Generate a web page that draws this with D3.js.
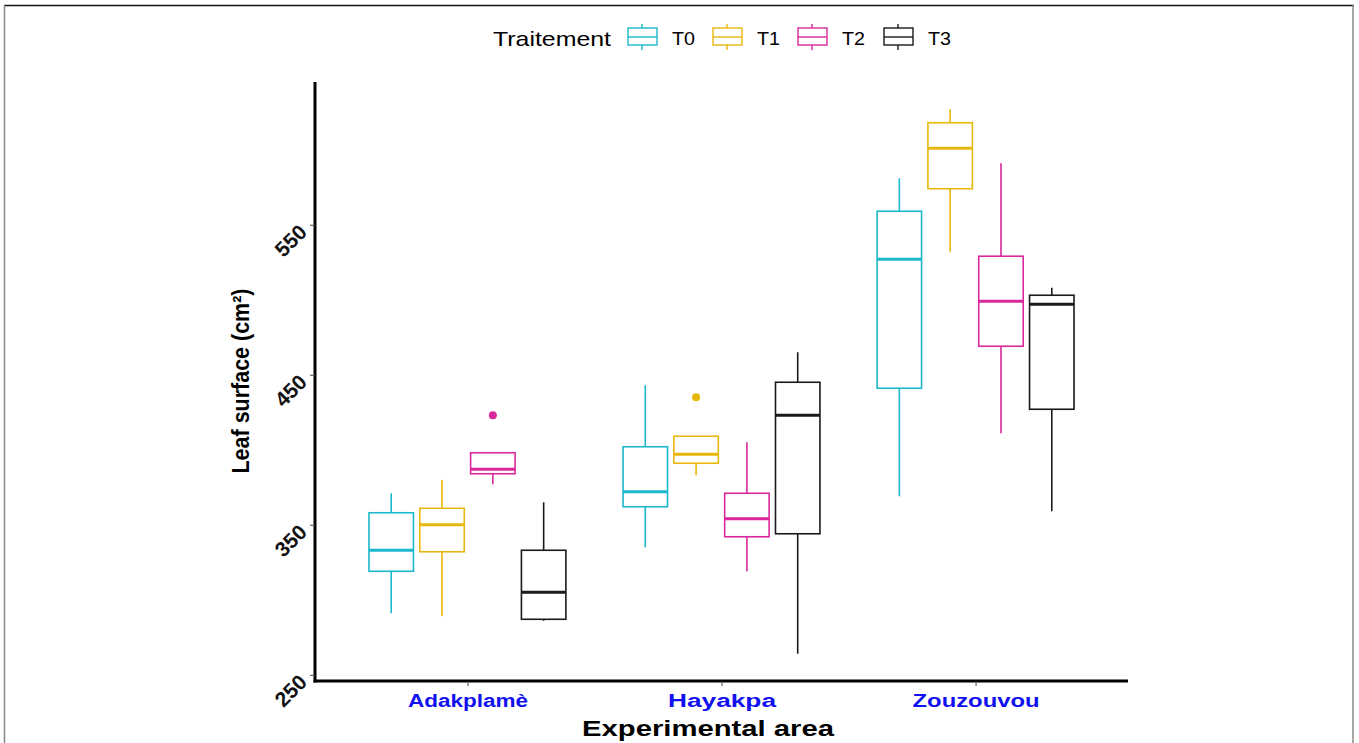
<!DOCTYPE html>
<html>
<head>
<meta charset="utf-8">
<script src="https://cdn.jsdelivr.net/npm/d3@7"></script>
<style>
	body{margin:0;background:#fff;}
	svg{display:block;font-family:"Liberation Sans",Arial,sans-serif;}
</style>
</head>
<body>
<div id="chart"></div>
<script>
//Data
const areas = ['Adakplamè','Hayakpa','Zouzouvou'];
const treatments = ['T0','T1','T2','T3'];
const yTicks = [250,350,450,550];

//[lower whisker, q1, median, q3, upper whisker], one per area
const statsT0 = [[291,319,333,358,371],[335,362,372,402,443],[369,441,527,559,581]];
const statsT1 = [[289,332,350,361,380],[383,391,397,409,409],[532,574,601,618,627]];
const statsT2 = [[377,384,387,398,398],[319,342,354,371,405],[411,469,499,529,591]];
const statsT3 = [[286,287,305,333,365],[264,344,423,445,465],[359,427,497,503,508]];
const outliers = [
	{area:'Adakplamè',trt:'T2',value:423},
	{area:'Hayakpa',trt:'T1',value:435}
];

const colors = ['#1CB8CB','#E8B70C','#D9289B','#1a1a1a'];

const W = 1359, H = 743;
const margin = {t:82,r:231,b:62,l:315};

const allStats = [statsT0,statsT1,statsT2,statsT3];
const boxes = [];
allStats.forEach((s,ti) => {
	s.forEach((d,ai) => {
		boxes.push({area:areas[ai],trt:treatments[ti],ti:ti,lo:d[0],q1:d[1],med:d[2],q3:d[3],hi:d[4]});
	});
});

const svg = d3.select('#chart').append('svg')
	.attr('width',W)
	.attr('height',H);

//frame
svg.append('line').attr('x1',4).attr('x2',1354).attr('y1',5.5).attr('y2',5.5)
	.style('stroke','#111').style('stroke-width',1.5);
svg.append('line').attr('x1',4.5).attr('x2',4.5).attr('y1',5).attr('y2',H)
	.style('stroke','#888').style('stroke-width',1.5);
svg.append('line').attr('x1',1353).attr('x2',1353).attr('y1',5).attr('y2',H)
	.style('stroke','#888').style('stroke-width',1.5);

//scales, 5% expansion like ggplot
const vals = boxes.flatMap(d => [d.lo,d.hi]).concat(outliers.map(d => d.value));
const [vMin,vMax] = d3.extent(vals);
const pad = (vMax - vMin)*0.05;
const scaleY = d3.scaleLinear()
	.domain([vMin - pad, vMax + pad])
	.range([H - margin.b, margin.t]);
const scaleX = d3.scalePoint()
	.domain(areas)
	.range([margin.l, W - margin.r])
	.padding(0.6);
const step = scaleX.step();
const dodge = d => (d - 1.5)*step*0.2;
const bw = step*0.175;

const plot = svg.append('g');

//whiskers
plot.selectAll('.whisker')
	.data(boxes)
	.enter()
	.append('line')
	.attr('class','whisker')
	.attr('x1',d => scaleX(d.area) + dodge(d.ti))
	.attr('x2',d => scaleX(d.area) + dodge(d.ti))
	.attr('y1',d => scaleY(d.lo))
	.attr('y2',d => scaleY(d.hi))
	.style('stroke',d => colors[d.ti])
	.style('stroke-width',1.6);

//boxes
plot.selectAll('.box')
	.data(boxes)
	.enter()
	.append('rect')
	.attr('class','box')
	.attr('x',d => scaleX(d.area) + dodge(d.ti) - bw/2)
	.attr('width',bw)
	.attr('y',d => scaleY(d.q3))
	.attr('height',d => scaleY(d.q1) - scaleY(d.q3))
	.style('fill','#fff')
	.style('stroke',d => colors[d.ti])
	.style('stroke-width',1.6);

//medians
plot.selectAll('.median')
	.data(boxes)
	.enter()
	.append('line')
	.attr('class','median')
	.attr('x1',d => scaleX(d.area) + dodge(d.ti) - bw/2)
	.attr('x2',d => scaleX(d.area) + dodge(d.ti) + bw/2)
	.attr('y1',d => scaleY(d.med))
	.attr('y2',d => scaleY(d.med))
	.style('stroke',d => colors[d.ti])
	.style('stroke-width',3);

//outliers
plot.selectAll('.outlier')
	.data(outliers)
	.enter()
	.append('circle')
	.attr('class','outlier')
	.attr('cx',d => scaleX(d.area) + dodge(treatments.indexOf(d.trt)))
	.attr('cy',d => scaleY(d.value))
	.attr('r',4)
	.style('fill',d => colors[treatments.indexOf(d.trt)]);

//axes
const axisY = d3.axisLeft(scaleY).tickValues(yTicks).tickSize(5).tickSizeOuter(0);
const axisX = d3.axisBottom(scaleX).tickSize(5).tickSizeOuter(0);

const gy = svg.append('g')
	.attr('transform',`translate(${margin.l},0)`)
	.call(axisY);
gy.select('.domain')
	.attr('d',`M0,${H - margin.b + 1.5}V${margin.t}`)
	.style('stroke','#000').style('stroke-width',3);
gy.selectAll('.tick line').style('stroke','#444').style('stroke-width',1);
gy.selectAll('.tick text')
	.attr('x',0).attr('dy','0.35em')
	.attr('transform','translate(-12,3) rotate(-45)')
	.style('font-size','21px')
	.style('font-weight','bold')
	.style('fill','#111');

const gx = svg.append('g')
	.attr('transform',`translate(0,${H - margin.b})`)
	.call(axisX);
gx.select('.domain')
	.attr('d',`M${margin.l - 1.5},0H${W - margin.r}`)
	.style('stroke','#000').style('stroke-width',3);
gx.selectAll('.tick line').style('stroke','#444').style('stroke-width',1);
const xLabelW = {'Adakplamè':120,'Hayakpa':108,'Zouzouvou':127};
gx.selectAll('.tick text')
	.attr('y',13)
	.attr('textLength',d => xLabelW[d])
	.attr('lengthAdjust','spacingAndGlyphs')
	.style('font-size','18px')
	.style('font-weight','bold')
	.style('fill','#1010F0');

//titles
svg.append('text')
	.attr('x',708).attr('y',736)
	.attr('text-anchor','middle')
	.attr('textLength',252).attr('lengthAdjust','spacingAndGlyphs')
	.style('font-size','22px').style('font-weight','bold')
	.text('Experimental area');

svg.append('text')
	.attr('transform','translate(249,381) rotate(-90)')
	.attr('text-anchor','middle')
	.attr('textLength',185).attr('lengthAdjust','spacingAndGlyphs')
	.style('font-size','23px').style('font-weight','bold')
	.text('Leaf surface (cm²)');

//legend
const legend = svg.append('g');
legend.append('text')
	.attr('x',493).attr('y',46)
	.attr('textLength',118).attr('lengthAdjust','spacingAndGlyphs')
	.style('font-size','21px')
	.text('Traitement');

const keyX = [627,712,797,883];
const keys = legend.selectAll('.key')
	.data(treatments)
	.enter()
	.append('g')
	.attr('class','key')
	.attr('transform',(d,i) => `translate(${keyX[i]},0)`);
keys.append('line')
	.attr('x1',15).attr('x2',15).attr('y1',24).attr('y2',50)
	.style('stroke',(d,i) => colors[i]).style('stroke-width',1.4);
keys.append('rect')
	.attr('x',1).attr('y',28).attr('width',29).attr('height',17)
	.style('fill','#fff')
	.style('stroke',(d,i) => colors[i]).style('stroke-width',1.4);
keys.append('line')
	.attr('x1',1).attr('x2',30).attr('y1',37).attr('y2',37)
	.style('stroke',(d,i) => colors[i]).style('stroke-width',1.4);
keys.append('text')
	.attr('x',45).attr('y',45)
	.attr('textLength',23).attr('lengthAdjust','spacingAndGlyphs')
	.style('font-size','18px')
	.text(d => d);
</script>
</body>
</html>
